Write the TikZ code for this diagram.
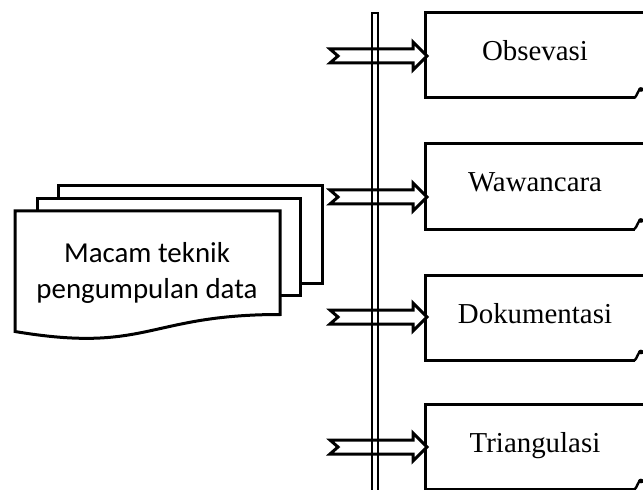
\documentclass[tikz,border=0pt]{standalone}
\usepackage{fontspec}
\setmainfont{Liberation Serif}
\newfontfamily\docfont{Carlito}
\usetikzlibrary{calc}

\tikzset{
  outline/.style={draw=black, line width=3bp, line join=miter, fill=white},
  itembox/.style={rectangle, draw=none, outer sep=0pt, inner sep=0pt,
    minimum width=220bp, minimum height=85bp,
    text height=20bp, text depth=10bp,
    font=\fontsize{29}{34}\selectfont},
  doctext/.style={align=center, inner sep=0pt,
    font=\docfont\fontsize{29}{36}\selectfont},
  curl/.style={line width=2.4bp},
}

% hollow block arrow: notched tail at #1, tip at the west side of box #2
\newcommand{\blockarrow}[2]{%
  \draw[outline] let \p1=(#1), \p2=(#2.west) in
    (\x1, \y1+7bp) -- (\x2-12bp, \y1+7bp) -- (\x2-12bp, \y1+14bp)
    -- (\x2+2bp, \y1) -- (\x2-12bp, \y1-14bp) -- (\x2-12bp, \y1-7bp)
    -- (\x1, \y1-7bp) -- (\x1+8bp, \y1) -- cycle;}

% open-ended box outline with a small curl at the lower right
\newcommand{\itemoutline}[1]{%
  \draw[outline, fill=none] ($(#1.north east)+(10,0)$) -- (#1.north west)
    -- (#1.south west) -- ($(#1.south east)+(-10,0)$);
  \draw[curl] ($(#1.south east)+(-10.5,0)$)
    .. controls ($(#1.south east)+(-8,-2)$) and ($(#1.south east)+(-7,-8)$)
    .. ($(#1.south east)+(-4,-10)$);
  \fill ($(#1.south east)+(-4,-8.5)$) ellipse (3bp and 2.3bp);}

\begin{document}
\begin{tikzpicture}[x=1bp, y=-1bp]
  \useasboundingbox (0,0) rectangle (643,490);
  \clip (0,0) rectangle (643,490);

  % stacked documents
  \draw[outline] (58,186) rectangle (322,283);
  \draw[outline] (37,199) rectangle (300,295);
  \draw[outline] (15,211) -- (280,211) -- (280,314.5)
    .. controls (147.5,314.5) and (147.5,353.8) .. (15,331.5) -- cycle;
  \node[doctext] (doc) at (147,273) {Macam teknik\\pengumpulan data};

  % method boxes
  \node[itembox] (obs) at (535,55.5)  {Obsevasi};
  \node[itembox] (waw) at (535,186.5) {Wawancara};
  \node[itembox] (dok) at (535,318)   {Dokumentasi};
  \node[itembox] (tri) at (535,447)   {Triangulasi};
  \foreach \b in {obs,waw,dok,tri} {\itemoutline{\b}}

  % arrow tails
  \coordinate (tobs) at (330,56);
  \coordinate (twaw) at (330,197);
  \coordinate (tdok) at (330,317);
  \coordinate (ttri) at (330,447);

  \blockarrow{tobs}{obs}
  \blockarrow{twaw}{waw}
  \blockarrow{tdok}{dok}
  \blockarrow{ttri}{tri}

  % vertical rail, crossing the arrows
  \coordinate (railtop) at (375,13);
  \coordinate (railend) at (375,500);
  \draw[line width=2.5bp] ($(railend)+(-3,0)$) -- ($(railtop)+(-3,0)$)
    -- ($(railtop)+(3,0)$) -- ($(railend)+(3,0)$);
\end{tikzpicture}
\end{document}
